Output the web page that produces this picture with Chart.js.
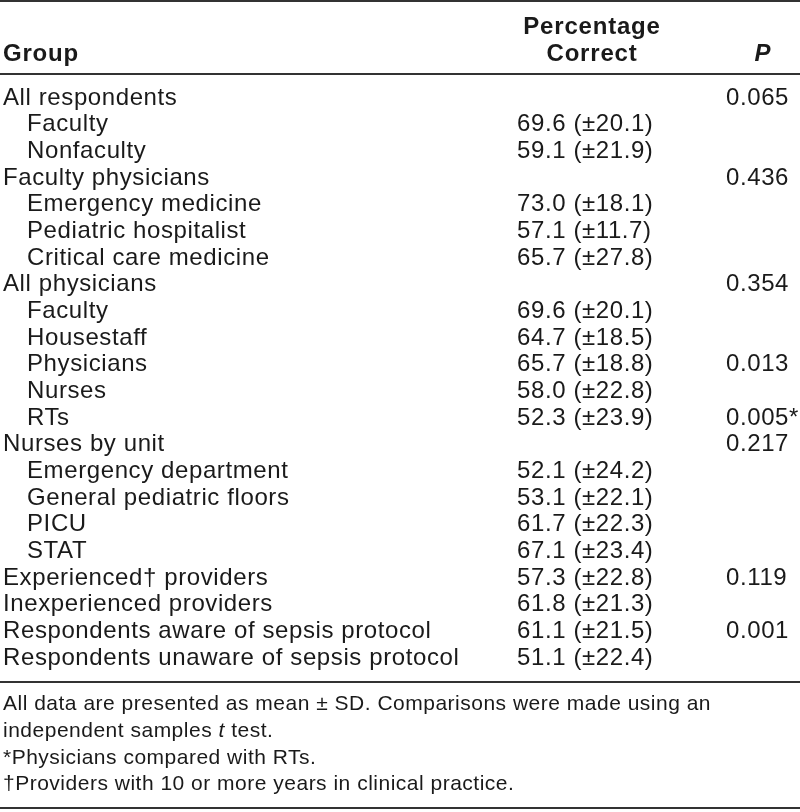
<!DOCTYPE html>
<html>
<head>
<meta charset="utf-8">
<script src="https://cdn.jsdelivr.net/npm/chart.js@4.4.0/dist/chart.umd.min.js"></script>
<style>
  body { margin: 0; background: #fff; }
  #wrap { width: 800px; height: 812px; }
</style>
</head>
<body>
<div id="wrap"><canvas id="tableChart"></canvas></div>
<script>
// Table data
const groups = [
  "All respondents", "Faculty", "Nonfaculty",
  "Faculty physicians", "Emergency medicine", "Pediatric hospitalist", "Critical care medicine",
  "All physicians", "Faculty", "Housestaff", "Physicians", "Nurses", "RTs",
  "Nurses by unit", "Emergency department", "General pediatric floors", "PICU", "STAT",
  "Experienced\u2020 providers", "Inexperienced providers",
  "Respondents aware of sepsis protocol", "Respondents unaware of sepsis protocol"
];
const isSubgroup = [0,1,1, 0,1,1,1, 0,1,1,1,1,1, 0,1,1,1,1, 0,0, 0,0];
const means = [null,69.6,59.1, null,73.0,57.1,65.7, null,69.6,64.7,65.7,58.0,52.3,
  null,52.1,53.1,61.7,67.1, 57.3,61.8, 61.1,51.1];
const sds = [null,20.1,21.9, null,18.1,11.7,27.8, null,20.1,18.5,18.8,22.8,23.9,
  null,24.2,22.1,22.3,23.4, 22.8,21.3, 21.5,22.4];
const pValues = ["0.065",null,null, "0.436",null,null,null, "0.354",null,null,"0.013",null,"0.005*",
  "0.217",null,null,null,null, "0.119",null, "0.001",null];
const headers = ["Group", "Percentage\nCorrect", "P"];
const footnotes = [
  "All data are presented as mean \u00b1 SD. Comparisons were made using an",
  "independent samples |t| test.",
  "*Physicians compared with RTs.",
  "\u2020Providers with 10 or more years in clinical practice."
];

// layout (in scale units: x = px across, y = row index)
const colX = { group: 3, indent: 27, pct: 517, p: 726, pctHead: 592, pHead: 763 };
const headerY = { line1: -2.6, line2: -1.6 };
const footY = [22.79, 23.79, 24.79, 25.79];
const rulesY = [-3.59, -0.86, 21.94, 26.69];

const bodyFont = '24px "Liberation Sans", Arial, sans-serif';
const headFont = 'bold 24px "Liberation Sans", Arial, sans-serif';
const footFont = '21px "Liberation Sans", Arial, sans-serif';

const groupPoints = groups.map((g, i) => ({ x: isSubgroup[i] ? colX.indent : colX.group, y: i + 0.05, text: g }));
const pctPoints = [];
means.forEach((m, i) => {
  if (m !== null) pctPoints.push({ x: colX.pct, y: i + 0.05, text: m.toFixed(1) + " (\u00b1" + sds[i].toFixed(1) + ")" });
});
const pPoints = [];
pValues.forEach((p, i) => {
  if (p !== null) pPoints.push({ x: colX.p, y: i + 0.05, text: p });
});

const tablePlugin = {
  id: "tableText",
  afterDatasetsDraw(chart) {
    const ctx = chart.ctx;
    const xs = chart.scales.x, ys = chart.scales.y;
    ctx.save();
    ctx.fillStyle = "#1a1a1a";
    ctx.textBaseline = "middle";
    ctx.textAlign = "left";

    // body cells, placed at the points
    ctx.letterSpacing = "0.6px";
    chart.data.datasets.forEach((ds, di) => {
      const meta = chart.getDatasetMeta(di);
      ctx.font = bodyFont;
      meta.data.forEach((el, j) => {
        ctx.fillText(ds.data[j].text, el.x, el.y);
      });
    });

    // headers
    ctx.letterSpacing = "0.8px";
    ctx.font = headFont;
    ctx.fillText(headers[0], xs.getPixelForValue(colX.group), ys.getPixelForValue(headerY.line2));
    ctx.textAlign = "center";
    const pc = headers[1].split("\n");
    ctx.fillText(pc[0], xs.getPixelForValue(colX.pctHead), ys.getPixelForValue(headerY.line1));
    ctx.fillText(pc[1], xs.getPixelForValue(colX.pctHead), ys.getPixelForValue(headerY.line2));
    ctx.font = 'italic ' + headFont;
    ctx.fillText(headers[2], xs.getPixelForValue(colX.pHead), ys.getPixelForValue(headerY.line2));

    // footnotes
    ctx.textAlign = "left";
    ctx.letterSpacing = "0.5px";
    footnotes.forEach((f, i) => {
      let x = xs.getPixelForValue(colX.group);
      const y = ys.getPixelForValue(footY[i]);
      f.split("|").forEach((part, k) => {
        ctx.font = (k % 2 === 1 ? "italic " : "") + footFont;
        ctx.fillText(part, x, y);
        x += ctx.measureText(part).width;
      });
    });

    // rules
    ctx.strokeStyle = "#333";
    ctx.lineWidth = 2;
    rulesY.forEach(r => {
      const y = Math.round(ys.getPixelForValue(r));
      ctx.beginPath();
      ctx.moveTo(xs.left, y);
      ctx.lineTo(xs.right, y);
      ctx.stroke();
    });
    ctx.restore();
  }
};

new Chart(document.getElementById("tableChart"), {
  type: "scatter",
  data: {
    datasets: [
      { label: "Group", data: groupPoints, pointRadius: 0 },
      { label: "Percentage Correct", data: pctPoints, pointRadius: 0 },
      { label: "P", data: pPoints, pointRadius: 0 }
    ]
  },
  options: {
    responsive: true,
    maintainAspectRatio: false,
    animation: false,
    layout: { padding: 0 },
    plugins: { legend: { display: false }, tooltip: { enabled: false } },
    scales: {
      x: { type: "linear", min: 0, max: 800, display: false },
      y: { type: "linear", min: -3.625, max: 26.825, reverse: true, display: false }
    }
  },
  plugins: [tablePlugin]
});
</script>
</body>
</html>
